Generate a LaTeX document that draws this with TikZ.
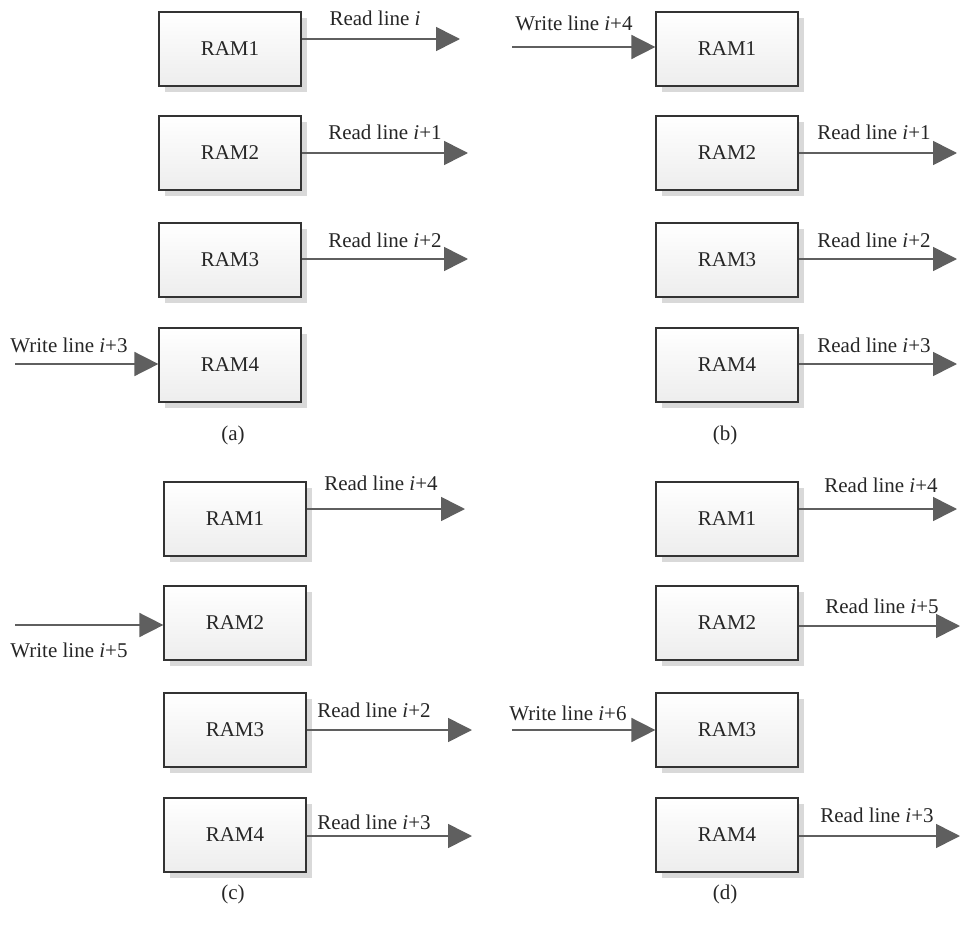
\documentclass[tikz,border=0pt]{standalone}
\usepackage{fontspec}
\setmainfont{Liberation Serif}
\usetikzlibrary{arrows.meta,shadows}
\definecolor{arrowgray}{HTML}{5F5F5F}
\definecolor{boxline}{HTML}{333333}
\begin{document}
\begin{tikzpicture}[x=0.5pt,y=-0.5pt,
	every node/.style={font=\fontsize{10.5}{12}\selectfont, text=black!85},
	ram/.style={rectangle, draw=boxline, line width=0.6pt, minimum width=71pt, minimum height=37pt,
		top color=white, bottom color=gray!14,
		drop shadow={shadow xshift=3pt, shadow yshift=-3pt, fill=gray!30, opacity=1}},
	flow/.style={draw=arrowgray, line width=0.8pt, -{Triangle[length=12pt,width=12pt]}},
	lbl/.style={inner sep=0pt}]
	\useasboundingbox (0,0) rectangle (960,926);
	% memory blocks of the four panels
	\foreach \p/\cx/\cy in {a/230/49, b/727/49, c/235/519, d/727/519}{
		\foreach \k/\dy in {1/0, 2/104, 3/211, 4/316}
			\node[ram] (\p\k) at (\cx,\cy+\dy) {RAM\k};
	}
	% (a)
	\coordinate (ea1) at (460,39);
	\coordinate (ea2) at (468,153);
	\coordinate (ea3) at (468,259);
	\coordinate (sa4) at (15,364);
	\draw[flow] (a1.east |- ea1) -- (ea1);
	\draw[flow] (a2.east |- ea2) -- (ea2);
	\draw[flow] (a3.east |- ea3) -- (ea3);
	\draw[flow] (sa4) -- (a4.west |- sa4);
	\node[lbl] (la1) at (375,18) {Read line \textit{i}};
	\node[lbl] (la2) at (385,132) {Read line \textit{i}+1};
	\node[lbl] (la3) at (385,240) {Read line \textit{i}+2};
	\node[lbl] (la4) at (69,345) {Write line \textit{i}+3};
	\node (capa) at (233,435) {(a)};
	% (b)
	\coordinate (sb1) at (512,47);
	\coordinate (eb2) at (957,153);
	\coordinate (eb3) at (957,259);
	\coordinate (eb4) at (957,364);
	\draw[flow] (sb1) -- (b1.west |- sb1);
	\draw[flow] (b2.east |- eb2) -- (eb2);
	\draw[flow] (b3.east |- eb3) -- (eb3);
	\draw[flow] (b4.east |- eb4) -- (eb4);
	\node[lbl] (lb1) at (574,23) {Write line \textit{i}+4};
	\node[lbl] (lb2) at (874,132) {Read line \textit{i}+1};
	\node[lbl] (lb3) at (874,240) {Read line \textit{i}+2};
	\node[lbl] (lb4) at (874,345) {Read line \textit{i}+3};
	\node (capb) at (725,435) {(b)};
	% (c)
	\coordinate (ec1) at (465,509);
	\coordinate (sc2) at (15,625);
	\coordinate (ec3) at (472,730);
	\coordinate (ec4) at (472,836);
	\draw[flow] (c1.east |- ec1) -- (ec1);
	\draw[flow] (sc2) -- (c2.west |- sc2);
	\draw[flow] (c3.east |- ec3) -- (ec3);
	\draw[flow] (c4.east |- ec4) -- (ec4);
	\node[lbl] (lc1) at (381,483) {Read line \textit{i}+4};
	\node[lbl] (lc2) at (69,650) {Write line \textit{i}+5};
	\node[lbl] (lc3) at (374,710) {Read line \textit{i}+2};
	\node[lbl] (lc4) at (374,822) {Read line \textit{i}+3};
	\node (capc) at (233,894) {(c)};
	% (d)
	\coordinate (ed1) at (957,509);
	\coordinate (ed2) at (960,626);
	\coordinate (sd3) at (512,730);
	\coordinate (ed4) at (960,836);
	\draw[flow] (d1.east |- ed1) -- (ed1);
	\draw[flow] (d2.east |- ed2) -- (ed2);
	\draw[flow] (sd3) -- (d3.west |- sd3);
	\draw[flow] (d4.east |- ed4) -- (ed4);
	\node[lbl] (ld1) at (881,485) {Read line \textit{i}+4};
	\node[lbl] (ld2) at (882,606) {Read line \textit{i}+5};
	\node[lbl] (ld3) at (568,713) {Write line \textit{i}+6};
	\node[lbl] (ld4) at (877,815) {Read line \textit{i}+3};
	\node (capd) at (725,894) {(d)};
\end{tikzpicture}
\end{document}
